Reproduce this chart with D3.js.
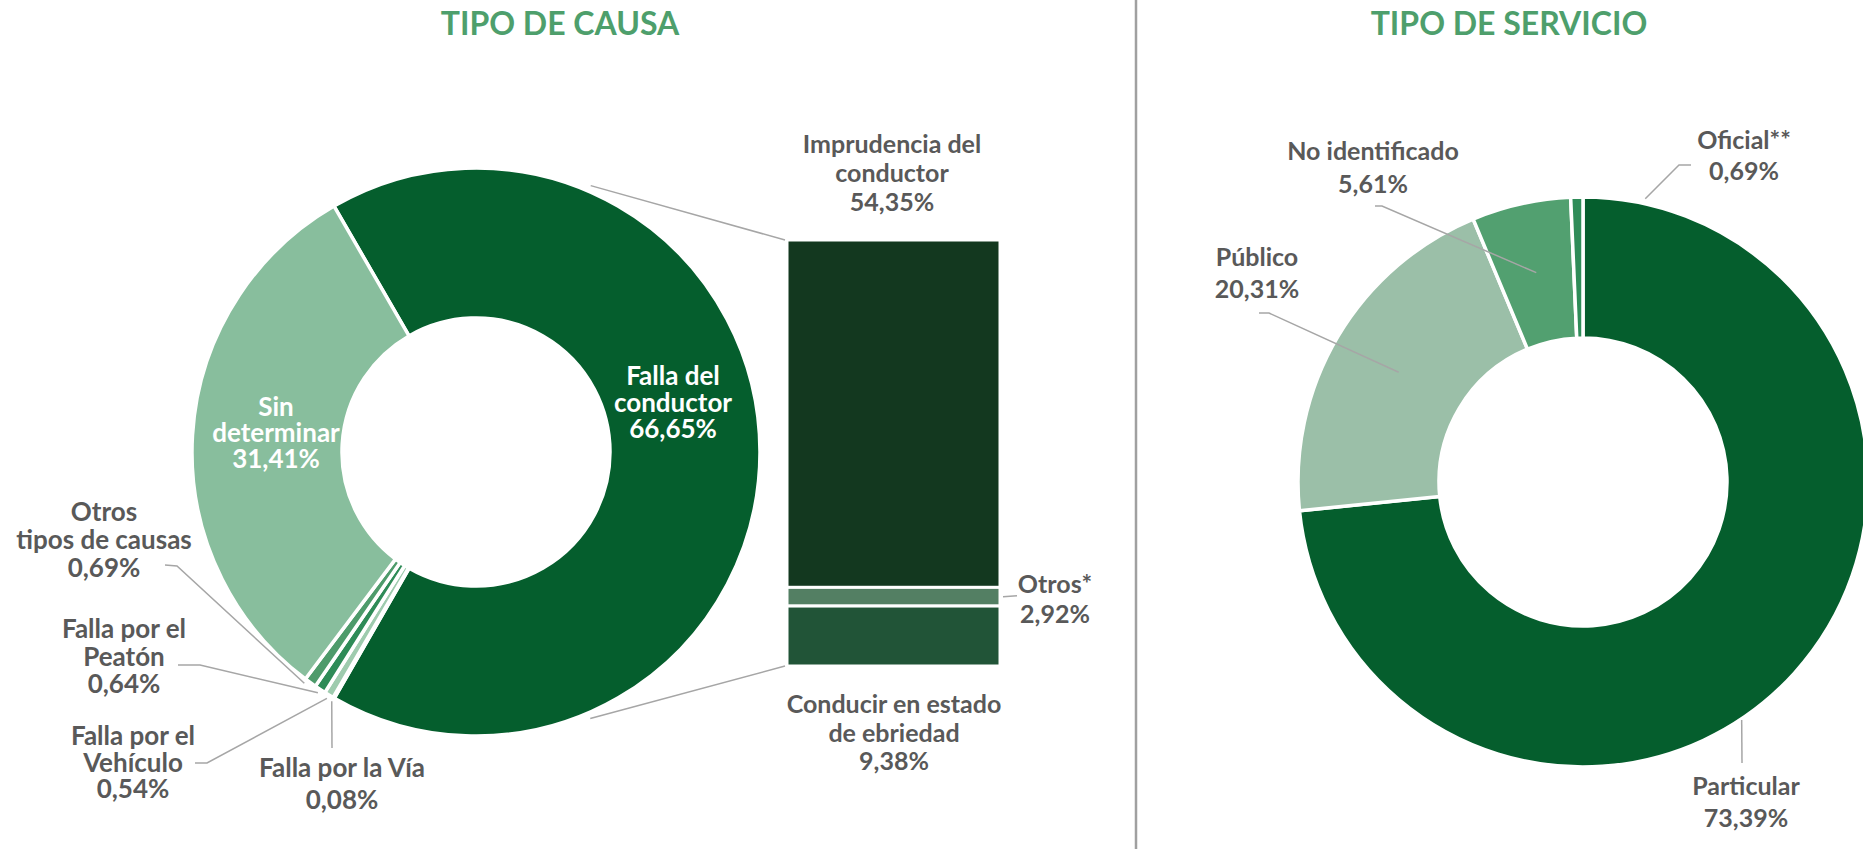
<!DOCTYPE html>
<html>
<head>
<meta charset="utf-8">
<script src="https://cdn.jsdelivr.net/npm/d3@7/dist/d3.min.js"></script>
<style>
  body { margin: 0; background: #fff; }
  svg text { font-family: Lato, "Noto Sans", sans-serif; font-weight: 700; }
</style>
</head>
<body>
<script>
// ---- data ----
var causaNames = ["Falla del conductor", "Falla por la Vía", "Falla por el Vehículo", "Falla por el Peatón", "Otros tipos de causas", "Sin determinar"];
var causaValues = [66.65, 0.08, 0.54, 0.64, 0.69, 31.41];
var causaColors = ["#055e2d", "#6aae84", "#9ecbae", "#2e8b57", "#4e9b6b", "#88be9d"];

var barNames = ["Imprudencia del conductor", "Otros*", "Conducir en estado de ebriedad"];
var barValues = [54.35, 2.92, 9.38];
var barColors = ["#13381f", "#537f63", "#215437"];

var servicioNames = ["Particular", "Público", "No identificado", "Oficial**"];
var servicioValues = [73.39, 20.31, 5.61, 0.69];
var servicioColors = ["#055e2d", "#9bbfa8", "#52a070", "#2f8c58"];

var titles = ["TIPO DE CAUSA", "TIPO DE SERVICIO"];

// ---- page ----
var W = 1863, H = 849;
var grey = "#595959", lineGrey = "#a6a6a6";
var pct = function (v) { return d3.format(".2f")(v).replace(".", ",") + "%"; };
var rad = function (deg) { return deg * Math.PI / 180; };

var svg = d3.select("body").append("svg")
    .attr("width", W)
    .attr("height", H);

// titles + divider
svg.append("text").attr("x", 560).attr("y", 35).attr("text-anchor", "middle")
    .attr("fill", "#4e9f6c").style("font-size", "32px").text(titles[0]);
svg.append("text").attr("x", 1509).attr("y", 35).attr("text-anchor", "middle")
    .attr("fill", "#4e9f6c").style("font-size", "32px").text(titles[1]);
svg.append("line").attr("x1", 1136).attr("x2", 1136).attr("y1", 0).attr("y2", H)
    .attr("stroke", "#a0a0a0").attr("stroke-width", 2.5);

// polar helper, angle clockwise from 12 o'clock
function polar(cx, cy, r, a) { return [cx + r * Math.sin(a), cy - r * Math.cos(a)]; }

// draws a multi-line label: name lines then the percentage
function label(g, x, y, lh, lines, size, color) {
    var t = g.append("text").attr("text-anchor", "middle").attr("fill", color)
        .style("font-size", size + "px");
    lines.forEach(function (s, i) {
        t.append("tspan").attr("x", x).attr("y", y + i * lh).text(s);
    });
}

function leader(g, pts) {
    g.append("path").attr("d", d3.line()(pts))
        .attr("fill", "none").attr("stroke", lineGrey).attr("stroke-width", 1.5);
}

// ================= left: TIPO DE CAUSA =================
var c1 = { x: 476, y: 452, r: 284, ir: 134 };
var pie1 = d3.pie().sort(null).value(function (d) { return d; })
    .startAngle(rad(-30)).endAngle(rad(330));
var arcs1 = pie1(causaValues);
var arc1 = d3.arc().innerRadius(c1.ir).outerRadius(c1.r);

var g1 = svg.append("g");
g1.append("g").attr("transform", "translate(" + c1.x + "," + c1.y + ")")
    .selectAll("path").data(arcs1).enter().append("path")
    .attr("d", arc1)
    .attr("fill", function (d, i) { return causaColors[i]; })
    .attr("stroke", "#fff").attr("stroke-width", 3.5).attr("stroke-linejoin", "miter");

// label layout (position of the text, outer end of the leader)
var causaLayout = [
    { x: 673, y: 385, lh: 26.5, lines: ["Falla del", "conductor"], color: "#fff" },
    { x: 342, y: 777, lh: 32, lines: ["Falla por la Vía"], lead: [[332, 748]] },
    { x: 133, y: 745, lh: 26.5, lines: ["Falla por el", "Vehículo"], lead: [[195, 763], [207, 763]] },
    { x: 124, y: 638, lh: 27.5, lines: ["Falla por el", "Peatón"], lead: [[178, 665], [200, 665]] },
    { x: 104, y: 521, lh: 28, lines: ["Otros", "tipos de causas"], lead: [[165, 565], [177, 566]], da: 0.9 },
    { x: 276, y: 416, lh: 26, lines: ["Sin", "determinar"], color: "#fff" }
];
arcs1.forEach(function (d, i) {
    var L = causaLayout[i];
    if (L.lead) {
        var mid = (d.startAngle + d.endAngle) / 2 + rad(L.da || 0);
        leader(g1, L.lead.concat([polar(c1.x, c1.y, c1.r + 4, mid)]));
    }
    label(g1, L.x, L.y, L.lh, L.lines.concat([pct(causaValues[i])]), 26, L.color || grey);
});

// stacked bar breaking down "Falla del conductor"
var bar = { x0: 787, x1: 1000, top: 240, bottom: 666 };
var yBar = d3.scaleLinear().domain([0, d3.sum(barValues)]).range([bar.top, bar.bottom]);
var cum = d3.cumsum(barValues);
var barData = barValues.map(function (v, i) { return { v: v, s: cum[i] - v, e: cum[i] }; });

g1.selectAll("rect.seg").data(barData).enter().append("rect")
    .attr("class", "seg")
    .attr("x", bar.x0)
    .attr("width", bar.x1 - bar.x0)
    .attr("y", function (d) { return yBar(d.s); })
    .attr("height", function (d) { return yBar(d.e) - yBar(d.s); })
    .attr("fill", function (d, i) { return barColors[i]; })
    .attr("stroke", "#fff").attr("stroke-width", 3);

// connectors from the doughnut to the bar
leader(g1, [polar(c1.x, c1.y, c1.r + 6, rad(23.3)), [bar.x0 - 2, yBar(0)]]);
leader(g1, [polar(c1.x, c1.y, c1.r + 6, rad(156.8)), [bar.x0 - 2, yBar(d3.sum(barValues))]]);

var barLayout = [
    { x: 892, y: 153, lh: 29, lines: ["Imprudencia del", "conductor"] },
    { x: 1055, y: 593, lh: 30, lines: ["Otros*"] },
    { x: 894, y: 713, lh: 28.5, lines: ["Conducir en estado", "de ebriedad"] }
];
barData.forEach(function (d, i) {
    var L = barLayout[i];
    label(g1, L.x, L.y, L.lh, L.lines.concat([pct(d.v)]), 25, grey);
});
leader(g1, [[bar.x1 + 3, yBar((barData[1].s + barData[1].e) / 2)], [1017, yBar((barData[1].s + barData[1].e) / 2) - 1]]);

// ================= right: TIPO DE SERVICIO =================
var c2 = { x: 1583, y: 482, r: 285, ir: 144 };
var pie2 = d3.pie().sort(null).value(function (d) { return d; })
    .startAngle(0).endAngle(2 * Math.PI);
var arcs2 = pie2(servicioValues);
var arc2 = d3.arc().innerRadius(c2.ir).outerRadius(c2.r);

var g2 = svg.append("g");
g2.append("g").attr("transform", "translate(" + c2.x + "," + c2.y + ")")
    .selectAll("path").data(arcs2).enter().append("path")
    .attr("d", arc2)
    .attr("fill", function (d, i) { return servicioColors[i]; })
    .attr("stroke", "#fff").attr("stroke-width", 3.5);

// anchor: null = slice centroid, otherwise [angle deg, radius]
var servicioLayout = [
    { x: 1746, y: 795, lh: 32, lead: [[1742, 763]], anchor: [146.3, 286] },
    { x: 1257, y: 266, lh: 32, lead: [[1259, 313], [1269, 313]], anchor: null },
    { x: 1373, y: 160, lh: 33, lead: [[1375, 206], [1382, 206]], anchor: null },
    { x: 1744, y: 149, lh: 31, lead: [[1691, 165], [1679, 165]], anchor: [12.4, 290] }
];
arcs2.forEach(function (d, i) {
    var L = servicioLayout[i], end;
    if (L.anchor) {
        end = polar(c2.x, c2.y, L.anchor[1], rad(L.anchor[0]));
    } else {
        var cen = arc2.centroid(d);
        end = [c2.x + cen[0], c2.y + cen[1]];
    }
    leader(g2, L.lead.concat([end]));
    label(g2, L.x, L.y, L.lh, [servicioNames[i], pct(servicioValues[i])], 25, grey);
});
</script>
</body>
</html>
